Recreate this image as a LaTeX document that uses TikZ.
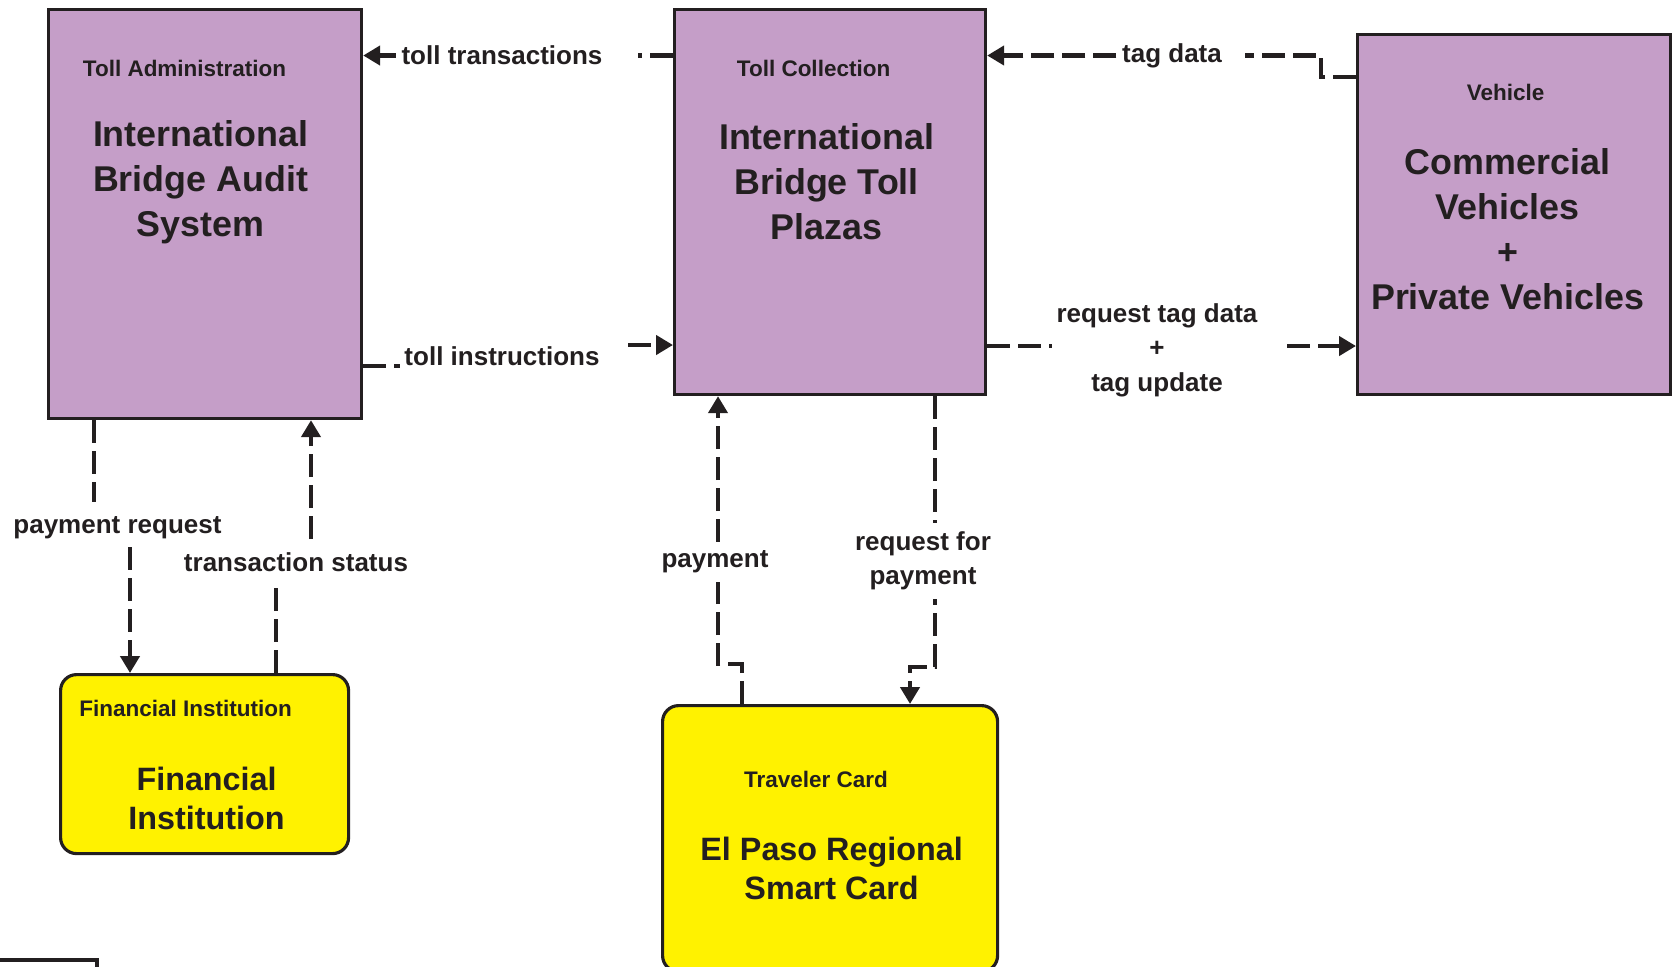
\documentclass[tikz,border=0pt]{standalone}
\usepackage{fontspec}
\setmainfont{Liberation Sans}
\usetikzlibrary{arrows.meta,positioning}
\definecolor{ink}{RGB}{35,31,32}
\definecolor{lilac}{RGB}{197,158,200}
\definecolor{cardyellow}{RGB}{255,242,0}

\begin{document}
\begin{tikzpicture}[font=\bfseries,text=ink,
sysbox/.style={draw=ink,line width=0.9pt,fill=lilac,anchor=north west,inner sep=0pt},
termbox/.style={draw=ink,line width=0.9pt,fill=cardyellow,rounded corners=1.6mm,anchor=north west,inner sep=0pt},
hdr/.style={font=\bfseries\fontsize{6.4}{7.7}\selectfont,inner sep=0pt},
ttl/.style={font=\bfseries\fontsize{10.2}{12.8}\selectfont,align=center,inner sep=0pt},
ttlsm/.style={font=\bfseries\fontsize{9.2}{11.1}\selectfont,align=center,inner sep=0pt},
lbl/.style={font=\bfseries\fontsize{7.4}{9.8}\selectfont,align=center,fill=white,inner xsep=0.5mm,inner ysep=0.9mm},
flow/.style={draw=ink,line width=1.3pt,dash pattern=on 2.3mm off 0.8mm},
arr/.style={-{Triangle[length=1.7mm,width=1.9mm]}}]
\useasboundingbox (0,0) rectangle (16.75,-9.66);
% boxes
\node[sysbox,minimum width=3.13cm,minimum height=4.095cm] (audit) at (0.47,-0.075) {};
\node[sysbox,minimum width=3.11cm,minimum height=3.855cm] (plaza) at (6.73,-0.075) {};
\node[sysbox,minimum width=3.13cm,minimum height=3.60cm] (vehicle) at (13.56,-0.33) {};
\node[termbox,minimum width=2.88cm,minimum height=1.79cm] (fininst) at (0.59,-6.73) {};
\node[termbox,minimum width=3.35cm,minimum height=2.66cm] (card) at (6.61,-7.04) {};
\draw[draw=ink,line width=0.9pt] (-0.5,-9.60) rectangle (0.97,-10.5);
% box texts
\node[hdr] (auditHdr) at ([shift={(-0.205,-0.605)}]audit.north) {Toll Administration};
\node[ttl] (auditTtl) at ([shift={(-0.045,-1.745)}]audit.north) {International\\Bridge Audit\\System};
\node[hdr] (plazaHdr) at ([shift={(-0.165,-0.605)}]plaza.north) {Toll Collection};
\node[ttl] (plazaTtl) at ([shift={(-0.035,-1.745)}]plaza.north) {International\\Bridge Toll\\Plazas};
\node[hdr] (vehicleHdr) at ([shift={(-0.085,-0.59)}]vehicle.north) {Vehicle};
\node[ttl] (vehicleTtl) at ([shift={(-0.065,-1.96)}]vehicle.north) {Commercial\\Vehicles\\+\\Private Vehicles};
\node[hdr] (fininstHdr) at ([shift={(-0.19,-0.35)}]fininst.north) {Financial Institution};
\node[ttlsm] (fininstTtl) at ([shift={(0.02,-1.255)}]fininst.north) {Financial\\Institution};
\node[hdr] (cardHdr) at ([shift={(-0.14,-0.75)}]card.north) {Traveler Card};
\node[ttlsm] (cardTtl) at ([shift={(0.015,-1.645)}]card.north) {El Paso Regional\\Smart Card};
% toll transactions / toll instructions
\node[lbl] (tollTr) at (5.02,-0.555) {toll transactions};
\draw[flow] (plaza.west |- tollTr) -- ([xshift=3mm]tollTr.east);
\draw[flow,arr] (tollTr.west) -- (audit.east |- tollTr);
\node[lbl] (tollIn) at (5.02,-3.56) {toll instructions};
\coordinate (tiL) at (4.0,-3.66);
\coordinate (tiR) at (6.28,-3.45);
\draw[flow] (audit.east |- tiL) -- (tiL);
\draw[flow,arr] (tiR) -- (plaza.west |- tiR);
% tag data / request tag data
\node[lbl] (tagData) at (11.72,-0.555) {tag data};
\coordinate (tdBend) at (13.21,-0.77);
\draw[flow] (vehicle.west |- tdBend) -- (tdBend) |- ([xshift=1.7mm]tagData.east);
\draw[flow,arr] (tagData.west) -- (plaza.east |- tagData);
\node[lbl] (reqTag) at (11.57,-3.50) {request tag data\\+\\tag update};
\coordinate (rtL) at (10.52,-3.46);
\coordinate (rtR) at (12.87,-3.46);
\draw[flow] (plaza.east |- rtL) -- (rtL);
\draw[flow,arr] (rtR) -- (vehicle.west |- rtR);
% payment request / transaction status
\node[lbl] (payReq) at (1.175,-5.28) {payment request};
\coordinate (prTop) at (0.94,-5.02);
\coordinate (prBot) at (1.30,-5.47);
\draw[flow] (audit.south -| prTop) -- (prTop);
\draw[flow,arr] (prBot) -- (fininst.north -| prBot);
\node[lbl] (trStat) at (2.96,-5.62) {transaction status};
\coordinate (tsBot) at (2.76,-5.88);
\coordinate (tsTop) at (3.11,-5.39);
\draw[flow] (fininst.north -| tsBot) -- (tsBot);
\draw[flow,arr] (tsTop) -- (audit.south -| tsTop);
% payment / request for payment
\coordinate (pyKnee) at (7.42,-6.64);
\coordinate (pyJog) at (7.18,-6.64);
\draw[flow,arr] (card.north -| pyKnee) -- (pyKnee) -- (pyJog) -- (plaza.south -| pyJog);
\node[lbl] (payLbl) at (7.15,-5.62) {payment};
\coordinate (rpKnee) at (9.35,-6.67);
\coordinate (rpJog) at (9.10,-6.67);
\draw[flow,arr] (plaza.south -| rpKnee) -- (rpKnee) -- (rpJog) -- (card.north -| rpJog);
\node[lbl] (reqPay) at (9.23,-5.61) {request for\\payment};
\end{tikzpicture}
\end{document}
